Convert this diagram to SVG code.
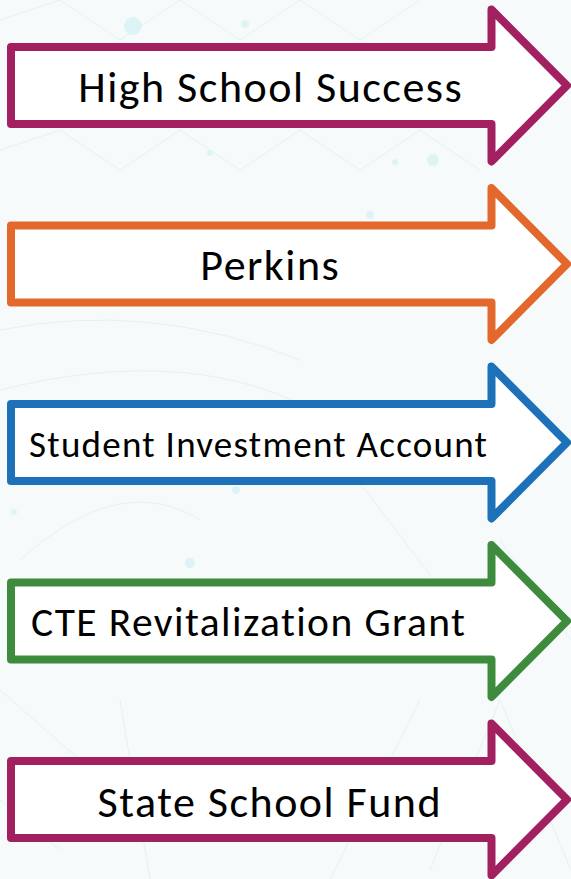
<svg xmlns="http://www.w3.org/2000/svg" xmlns:xlink="http://www.w3.org/1999/xlink" width="571" height="879" viewBox="0 0 571 879">
  <style>
    .arrow { fill: #ffffff; stroke-width: 8; stroke-linejoin: round; }
    .magenta { stroke: #A2205F; }
    .orange { stroke: #E2692B; }
    .blue { stroke: #1D71B8; }
    .green { stroke: #3E8B3D; }
    .label { font-family: Carlito, Lato, "Liberation Sans", sans-serif; fill: #000000; font-variant-ligatures: none; font-feature-settings: "liga" 0, "clig" 0; }
    .bgl { fill: none; stroke: #d8eef0; stroke-width: 1; opacity: 0.7; }
    .bgd { fill: #c9eef3; opacity: 0.55; }
  </style>
  <defs>
    <path id="arrowShape" d="M11,-38.5 H491.5 V-76 L567,0 L491.5,76 V38.5 H11 Z"/>
  </defs>

  <g id="background">
    <rect x="0" y="0" width="571" height="879" fill="#F7FAFA"/>
    <path class="bgl" d="M0,20 L60,0 M60,0 L120,40 L180,0 M180,0 L240,40 L300,0 L360,40 L420,0 M0,150 L60,130 L120,170 L180,130 L240,170 L300,130 L360,170 L420,130 L480,170"/>
    <path class="bgl" d="M0,330 Q150,300 300,360 M0,390 Q200,340 330,420 M20,560 Q120,470 200,520"/>
    <path class="bgl" d="M350,470 L480,640 M500,540 L571,640 M430,870 L500,700 L571,870 M330,879 L420,700"/>
    <path class="bgl" d="M0,690 L80,760 M0,800 L60,850 M120,700 L150,879"/>
    <circle class="bgd" cx="133" cy="26" r="9"/>
    <circle class="bgd" cx="245" cy="24" r="4"/>
    <circle class="bgd" cx="433" cy="160" r="6"/>
    <circle class="bgd" cx="395" cy="162" r="3"/>
    <circle class="bgd" cx="210" cy="153" r="3"/>
    <circle class="bgd" cx="370" cy="215" r="4"/>
    <circle class="bgd" cx="236" cy="490" r="4"/>
    <circle class="bgd" cx="190" cy="563" r="5"/>
    <circle class="bgd" cx="14" cy="512" r="3"/>
  </g>

  <g id="node-high-school-success">
    <use xlink:href="#arrowShape" href="#arrowShape" class="arrow magenta" transform="translate(0,85.5)"/>
    <text class="label" x="78.3" y="102" font-size="44" textLength="383.5" lengthAdjust="spacing">High School Success</text>
  </g>

  <g id="node-perkins">
    <use xlink:href="#arrowShape" href="#arrowShape" class="arrow orange" transform="translate(0,264)"/>
    <text class="label" x="200.3" y="280" font-size="44" textLength="138.4" lengthAdjust="spacing">Perkins</text>
  </g>

  <g id="node-student-investment-account">
    <use xlink:href="#arrowShape" href="#arrowShape" class="arrow blue" transform="translate(0,442.5)"/>
    <text class="label" x="29" y="456.7" font-size="37" textLength="458" lengthAdjust="spacing">Student Investment Account</text>
  </g>

  <g id="node-cte-revitalization-grant">
    <use xlink:href="#arrowShape" href="#arrowShape" class="arrow green" transform="translate(0,621)"/>
    <text class="label" x="31" y="636" font-size="41.5" textLength="434" lengthAdjust="spacing">CTE Revitalization Grant</text>
  </g>

  <g id="node-state-school-fund">
    <use xlink:href="#arrowShape" href="#arrowShape" class="arrow magenta" transform="translate(0,799.5)"/>
    <text class="label" x="97.6" y="816.7" font-size="44" textLength="343" lengthAdjust="spacing">State School Fund</text>
  </g>
</svg>
